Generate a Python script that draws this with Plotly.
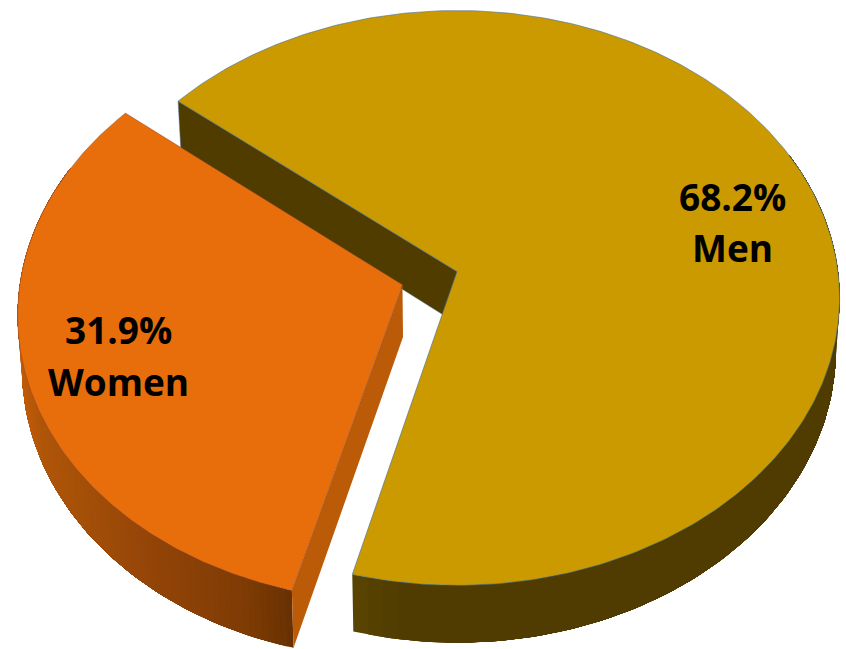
import math
import numpy as np
import plotly.graph_objects as go

categories = ["Men", "Women"]
values = [68.2, 31.9]

W, H = 846, 649
CX, CY = 457, 271.5
RX, RY = 381, 285
PERSP = 0.092
DEPTH = 52.0
CONVERGE = 0.99
EXPLODE = 0.15
START_DEG = 104.5

total = sum(values)
sweep_women = values[1] / total * 360
sweep_men = values[0] / total * 360
a0 = START_DEG
a1 = START_DEG + sweep_women
mid = math.radians((a0 + a1) / 2)


def project(theta_deg, r=1.0, off=0.0, bottom=False):
    t = np.radians(np.asarray(theta_deg, dtype=float))
    u = r * np.cos(t) + off * math.cos(mid)
    v = r * np.sin(t) + off * math.sin(mid)
    s = 1 / (1 - PERSP * v)
    x = RX * u * s
    y = CY + RY * v * s
    if bottom:
        x = x * CONVERGE
        y = y + DEPTH * s
    return CX + x, y


def poly(xs, ys, color, line=None, lw=0.0):
    return go.Scatter(
        x=list(xs), y=list(ys), mode="lines", fill="toself", fillcolor=color,
        line=dict(color=line or color, width=lw), hoverinfo="skip", showlegend=False,
    )


def lerp_color(stops, x):
    xs = [p[0] for p in stops]
    return "rgb(%d,%d,%d)" % tuple(
        np.interp(x, xs, [p[1][i] for p in stops]) for i in range(3)
    )


def add_rim(fig, start, end, stops, off, n):
    """Paint the rim far end first, each band reaching to the far end so no seams show."""
    edges = np.linspace(start, end, n + 1)
    for a, b in zip(edges[:-1], edges[1:]):
        seg = np.linspace(a, end, max(3, int(abs(end - a)) + 2))
        tx, ty = project(seg, off=off)
        qx, qy = project(seg[::-1], off=off, bottom=True)
        cx, _ = project([(a + b) / 2], off=off)
        col = lerp_color(stops, float(cx[0]))
        fig.add_trace(poly(np.r_[tx, qx, tx[0]], np.r_[ty, qy, ty[0]], col))


fig = go.Figure()

# Men: inner wall along the back edge
bx0, by0 = project([a1], r=0)
bx1, by1 = project([a1], r=1)
bbx0, bby0 = project([a1], r=0, bottom=True)
bbx1, bby1 = project([a1], r=1, bottom=True)
fig.add_trace(poly([bx0[0], bx1[0], bbx1[0], bbx0[0], bx0[0]],
                   [by0[0], by1[0], bby1[0], bby0[0], by0[0]],
                   "#513c00", "rgba(70,120,160,0.6)", 0.8))

# Men: outer rim
men_stops = [(350, (90, 69, 0)), (400, (81, 61, 0)), (840, (80, 60, 0))]
add_rim(fig, a0, -25, men_stops, 0.0, 60)

# Men: top face
t = np.linspace(a1, a1 + sweep_men, 300)
ex, ey = project(t)
fig.add_trace(poly(np.r_[CX, ex, CX], np.r_[CY, ey, CY], "#cb9900",
                   "rgba(60,110,150,0.65)", 0.9))

# Women: outer rim with gradient
women_stops = [(15, (198, 94, 10)), (40, (176, 86, 8)), (150, (148, 69, 8)),
               (250, (125, 59, 4)), (296, (102, 48, 3))]
add_rim(fig, a0, 205, women_stops, EXPLODE, 110)

# Women: cut wall on the right
ax, ay = project([a0], r=0, off=EXPLODE)
fx, fy = project([a0], r=1, off=EXPLODE)
abx, aby = project([a0], r=0, off=EXPLODE, bottom=True)
fbx, fby = project([a0], r=1, off=EXPLODE, bottom=True)
fig.add_trace(poly([ax[0], fx[0], fbx[0], abx[0], ax[0]],
                   [ay[0], fy[0], fby[0], aby[0], ay[0]], "#bb5b08"))

# Women: top face
t = np.linspace(a0, a1, 200)
wx, wy = project(t, off=EXPLODE)
fig.add_trace(poly(np.r_[ax, wx, ax], np.r_[ay, wy, ay], "#e86e0c",
                   "rgba(130,70,60,0.6)", 0.7))

label_pos = {"Men": (732, 196, 247), "Women": (118, 329, 381)}
annotations = []
for name, val in zip(categories, values):
    lx, ly1, ly2 = label_pos[name]
    for txt, ly in ((f"{val:.1f}%", ly1), (name, ly2)):
        annotations.append(dict(
            x=lx, y=ly, xref="x", yref="y", text=txt, showarrow=False,
            xanchor="center", yanchor="middle",
            font=dict(family="Open Sans", size=37, color="#000000", weight="bold"),
        ))

fig.update_layout(
    width=W, height=H, margin=dict(l=0, r=0, t=0, b=0),
    paper_bgcolor="white", plot_bgcolor="white", showlegend=False,
    xaxis=dict(range=[0, W], visible=False, fixedrange=True),
    yaxis=dict(range=[H, 0], visible=False, fixedrange=True),
    annotations=annotations,
)
fig.write_html(
    "out.html",
    config={"displayModeBar": False},
    post_script="document.body.style.margin='0';document.body.style.overflow='hidden';",
)
